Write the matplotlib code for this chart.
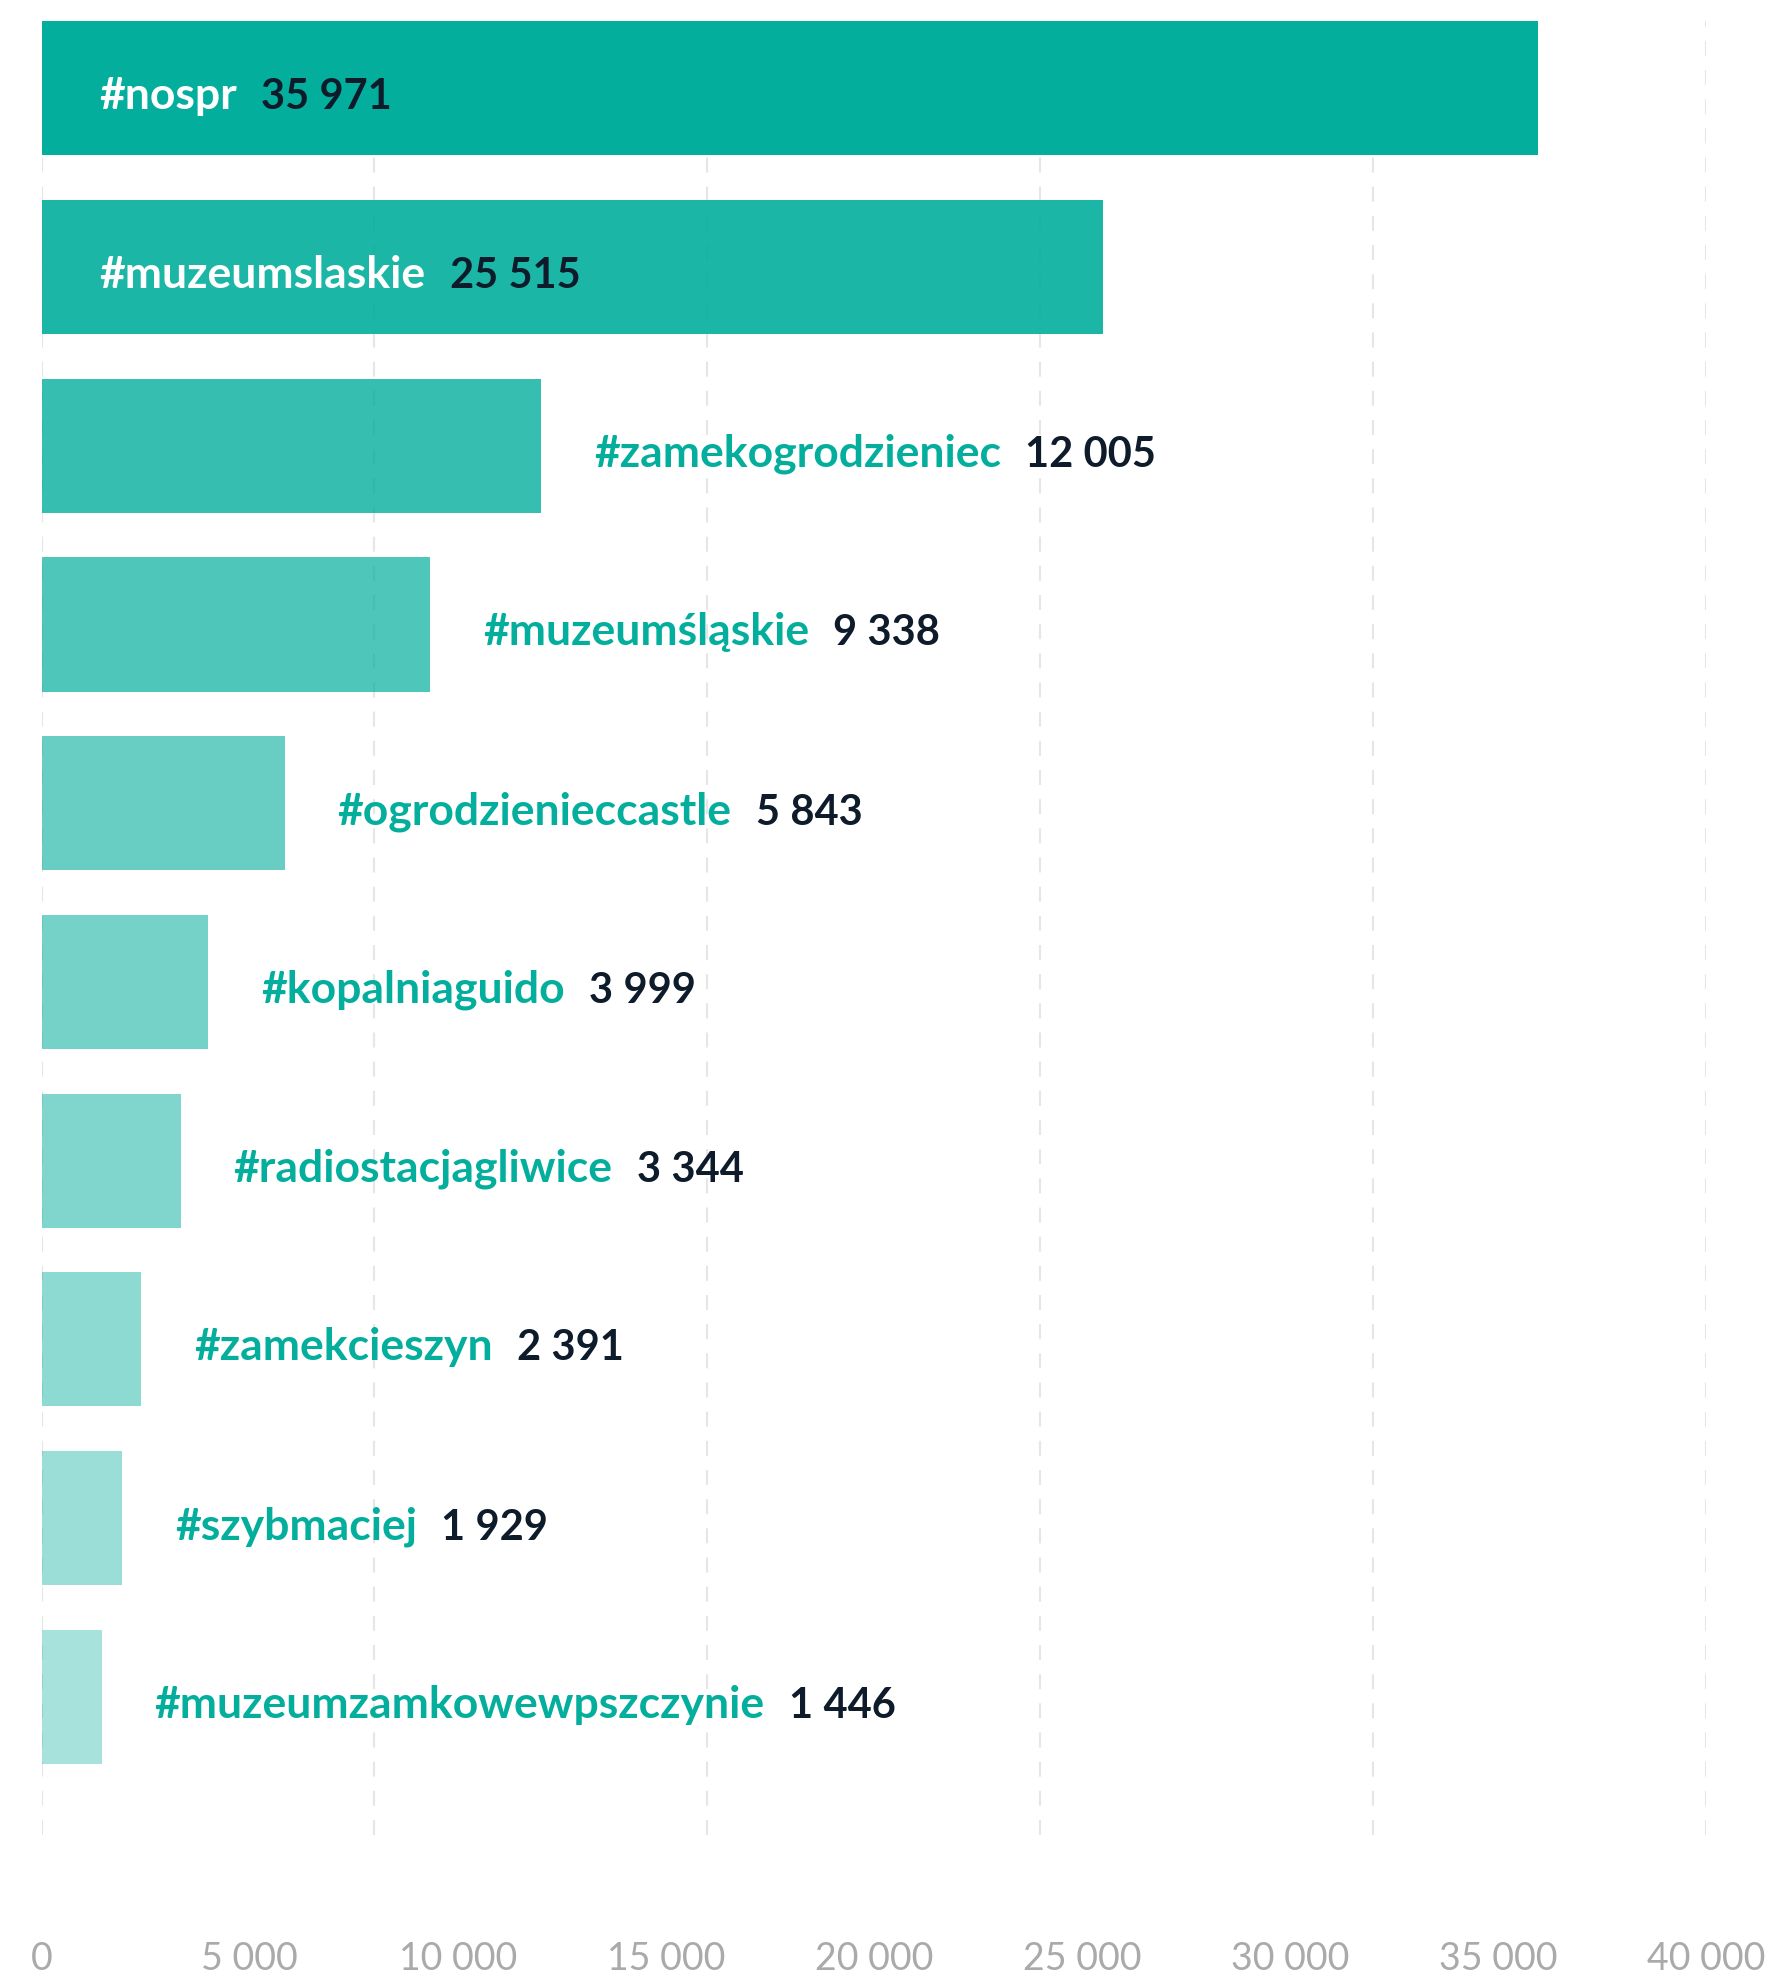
import matplotlib.pyplot as plt
import numpy as np

plt.rcParams["font.family"] = ["Lato", "DejaVu Sans"]

# data
hashtags = [
    "#nospr",
    "#muzeumslaskie",
    "#zamekogrodzieniec",
    "#muzeumśląskie",
    "#ogrodzienieccastle",
    "#kopalniaguido",
    "#radiostacjagliwice",
    "#zamekcieszyn",
    "#szybmaciej",
    "#muzeumzamkowewpszczynie",
]
counts = [35971, 25515, 12005, 9338, 5843, 3999, 3344, 2391, 1929, 1446]
tick_values = list(range(0, 40001, 5000))
grid_values = list(range(0, 40001, 8000))

TEAL = "#03ae9d"
NAVY = "#0d1b2a"
ALPHAS = [1.0, 0.9, 0.8, 0.7, 0.6, 0.55, 0.5, 0.45, 0.4, 0.35]
INSIDE_MIN = 20000


def fmt(v, sep=" "):
    return f"{v:,}".replace(",", sep)


fig = plt.figure(figsize=(17.77, 19.77), dpi=100)
ax = fig.add_axes([0.0234, 0.0718, 0.9366, 0.9174])

for x in grid_values:
    ax.axvline(x, color="#e6e6e6", linewidth=1.5,
               linestyle=(0, (7.2, 6.8)), zorder=0)

for i, (name, val) in enumerate(zip(hashtags, counts)):
    ax.barh(i, val, height=0.75, color=TEAL, alpha=ALPHAS[i],
            linewidth=0, zorder=2)
    inside = val > INSIDE_MIN
    name_txt = ax.annotate(
        name, xy=(0 if inside else val, i), xytext=(58 if inside else 53, -21),
        textcoords="offset pixels", ha="left", va="baseline",
        fontsize=32, fontweight="bold",
        color="white" if inside else TEAL, zorder=3,
    )
    ax.annotate(
        fmt(val, "\u2005"), xy=(1, 0), xycoords=name_txt, xytext=(24, 0),
        textcoords="offset pixels", ha="left", va="bottom",
        fontsize=30, fontweight="bold", color=NAVY, zorder=3,
    )

ax.set_xlim(0, 40000)
ax.set_ylim(9.774, -0.375)
ax.set_yticks([])
ax.set_xticks(tick_values)
ax.set_xticklabels([fmt(v) for v in tick_values], fontsize=27,
                   color="#aaaaaa")
ax.tick_params(axis="x", length=0, pad=76)
for s in ax.spines.values():
    s.set_visible(False)

fig.savefig("out.png", dpi=100, facecolor="white")
